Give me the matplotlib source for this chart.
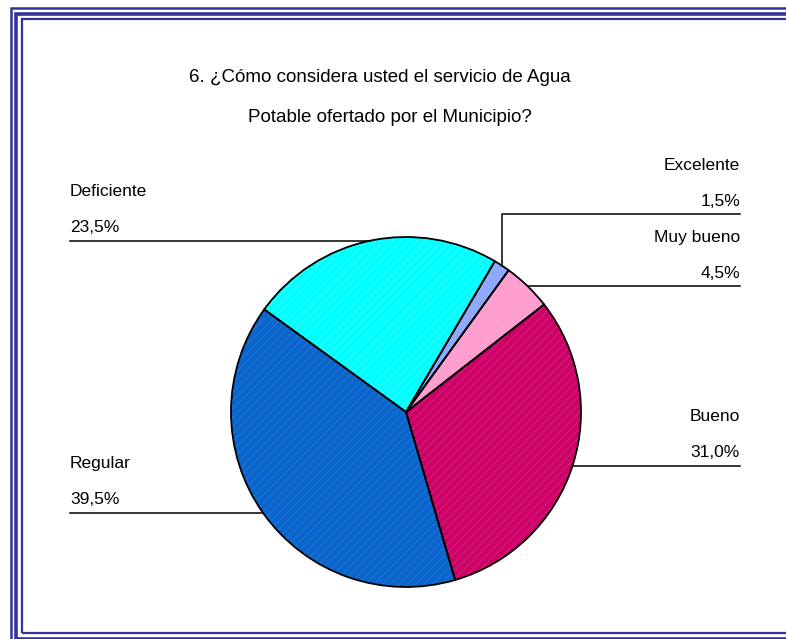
import matplotlib
matplotlib.use('Agg')
import numpy as np
import matplotlib.pyplot as plt
from matplotlib.patches import Rectangle

plt.rcParams['font.family'] = ['Liberation Sans', 'DejaVu Sans']
plt.rcParams['hatch.linewidth'] = 0.5

W, H = 786, 639

# data
categories = ['Excelente', 'Muy bueno', 'Bueno', 'Regular', 'Deficiente']
values = [1.5, 4.5, 31.0, 39.5, 23.5]
colors = ['#8FA9FF', '#FF9FCF', '#CC0066', '#0A66CC', '#00FFFF']
hatch_cols = ['#8FA9FF', '#FF9FCF', '#D63080', '#2A7AD8', '#40FFFF']
title_1 = '6. ¿Cómo considera usted el servicio de Agua'
title_2 = 'Potable ofertado por el Municipio?'

fig = plt.figure(figsize=(W/100, H/100), dpi=100)
ax = fig.add_axes([0, 0, 1, 1])

# pixel y (top-down) -> data y
def Y(y):
    return H - y

cx, cy, R = 406, Y(412), 175
# filled slices with a faint streak texture
fills, _ = ax.pie(values, colors=colors, startangle=59.5, counterclock=False,
                  center=(cx, cy), radius=R, frame=True,
                  wedgeprops=dict(linewidth=0))
for w, hc in zip(fills, hatch_cols):
    w.set_edgecolor(hc); w.set_hatch('////')
# black outlines on top
wedges, _ = ax.pie(values, startangle=59.5, counterclock=False,
                   center=(cx, cy), radius=R, frame=True,
                   wedgeprops=dict(fill=False, edgecolor='black', linewidth=1.3))

# leader lines + labels
XL, XR = 70, 740
for w, name, v in zip(wedges, categories, values):
    th = np.deg2rad((w.theta1 + w.theta2) / 2)
    px, py = cx + R*np.cos(th), cy + R*np.sin(th)
    right = np.cos(th) > 0
    tx = XR if right else XL
    if name == 'Excelente':
        ly = Y(214)
        ax.plot([px, px, tx], [py, ly, ly], color='black', lw=1.1)
    else:
        ly = py
        ax.plot([px, tx], [ly, ly], color='black', lw=1.1)
    ha = 'right' if right else 'left'
    pct = f'{v:.1f}%'.replace('.', ',')
    ax.text(tx, ly + 13, pct, ha=ha, va='center', fontsize=12.5)
    ax.text(tx, ly + 49, name, ha=ha, va='center', fontsize=12.5)

# title
ax.text(380, Y(77), title_1, ha='center', va='center', fontsize=13.5)
ax.text(390, Y(118), title_2, ha='center', va='center', fontsize=13.5)

# triple blue frame (runs off the right and bottom edges)
fc = '#333399'
for x0, y0, x1, y1, lw in [(10.5, 7.7, 800, 646, 1.8),
                           (15.5, 13.5, 795, 638.5, 2.6),
                           (22, 18.7, 790, 633, 1.6)]:
    ax.add_patch(Rectangle((x0, Y(y1)), x1 - x0, y1 - y0, fill=False,
                           edgecolor=fc, lw=lw, clip_on=False))

ax.set_xlim(0, W); ax.set_ylim(0, H)
ax.set_aspect('equal')
ax.axis('off')

fig.savefig('out.png', dpi=100)
